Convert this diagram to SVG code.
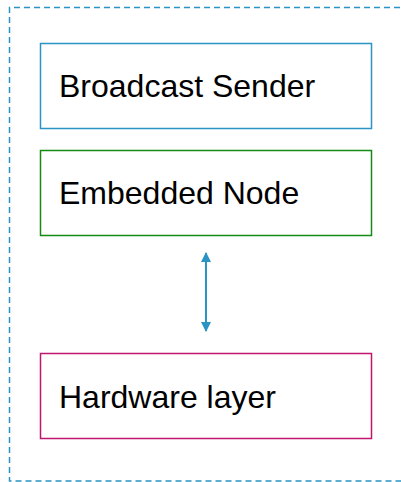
<svg xmlns="http://www.w3.org/2000/svg" width="401" height="482" viewBox="0 0 401 482">
<defs>
<style>
.box{fill:#fff;stroke-width:1.5}
.lbl{font-family:"Liberation Sans",Arial,sans-serif;font-size:32px;fill:#000}
</style>
<marker id="ah" viewBox="0 0 10 10" refX="9" refY="5" markerWidth="5.5" markerHeight="5" orient="auto-start-reverse" markerUnits="strokeWidth">
<path d="M0,0 L10,5 L0,10 z" fill="#2a94c4"/>
</marker>
</defs>
<rect width="401" height="482" fill="#fff"/>
<path d="M420,7.5 L9.5,7.5 L9.5,481 L420,481" fill="none" stroke="#2a94c4" stroke-width="1.5" stroke-dasharray="6,4"/>
<g id="broadcast-sender">
<rect class="box" x="40.5" y="43.5" width="331" height="85" stroke="#2a94c4"/>
<text class="lbl" x="59" y="97">Broadcast Sender</text>
</g>
<g id="embedded-node">
<rect class="box" x="40.5" y="150.5" width="331" height="85" stroke="#158a15"/>
<text class="lbl" x="59" y="204">Embedded Node</text>
</g>
<g id="hardware-layer">
<rect class="box" x="40.5" y="353.5" width="331" height="85" stroke="#c0176e"/>
<text class="lbl" x="59" y="408">Hardware layer</text>
</g>
<g id="connectors">
<line x1="206" y1="253" x2="206" y2="331" stroke="#2a94c4" stroke-width="2" marker-start="url(#ah)" marker-end="url(#ah)"/>
</g>
</svg>
